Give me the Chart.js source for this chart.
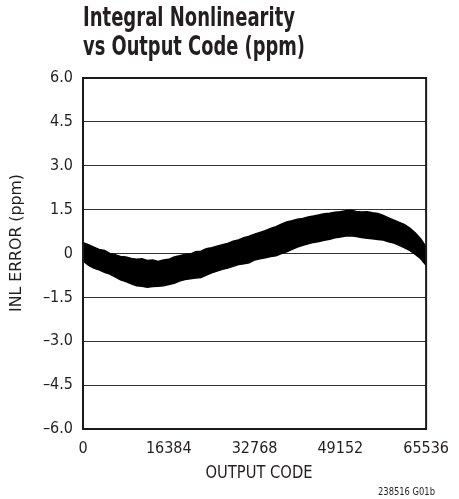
<!DOCTYPE html>
<html>
<head>
<meta charset="utf-8">
<script src="https://cdn.jsdelivr.net/npm/chart.js@4"></script>
<style>
  html, body { margin: 0; padding: 0; background: #fff; }
  #wrap { width: 459px; height: 499px; }
</style>
</head>
<body>
<div id="wrap"><canvas id="inl" width="459" height="499"></canvas></div>
<script>
// output codes, every 1024 codes
const codes = [0, 1024, 2048, 3072, 4096, 5120, 6144, 7168, 8192, 9216, 10240, 11264,
  12288, 13312, 14336, 15360, 16384, 17408, 18432, 19456, 20480, 21504, 22528, 23552,
  24576, 25600, 26624, 27648, 28672, 29696, 30720, 31744, 32768, 33792, 34816, 35840,
  36864, 37888, 38912, 39936, 40960, 41984, 43008, 44032, 45056, 46080, 47104, 48128,
  49152, 50176, 51200, 52224, 53248, 54272, 55296, 56320, 57344, 58368, 59392, 60416,
  61440, 62464, 63488, 64512, 65536];
// top edge of the noise band (ppm)
const inlUpper = [0.37, 0.3, 0.22, 0.14, 0.1, 0.0, -0.04, -0.1, -0.12, -0.17, -0.2, -0.18,
  -0.24, -0.22, -0.27, -0.22, -0.2, -0.12, -0.08, -0.03, -0.02, 0.06, 0.08, 0.16,
  0.2, 0.25, 0.3, 0.34, 0.42, 0.46, 0.54, 0.59, 0.66, 0.72, 0.78, 0.86,
  0.92, 1.0, 1.08, 1.12, 1.17, 1.2, 1.25, 1.28, 1.32, 1.36, 1.38, 1.41,
  1.43, 1.46, 1.48, 1.44, 1.42, 1.43, 1.39, 1.37, 1.3, 1.22, 1.14, 1.06,
  0.99, 0.86, 0.7, 0.5, 0.22];
// bottom edge of the noise band (ppm)
const inlLower = [-0.25, -0.4, -0.5, -0.56, -0.64, -0.7, -0.8, -0.9, -0.96, -1.04, -1.1, -1.12,
  -1.15, -1.13, -1.12, -1.1, -1.06, -1.02, -0.94, -0.89, -0.86, -0.84, -0.82, -0.74,
  -0.66, -0.6, -0.54, -0.5, -0.44, -0.38, -0.35, -0.32, -0.22, -0.18, -0.15, -0.1,
  -0.08, 0.0, 0.06, 0.14, 0.22, 0.28, 0.33, 0.38, 0.41, 0.45, 0.49, 0.54,
  0.56, 0.6, 0.61, 0.58, 0.55, 0.52, 0.5, 0.48, 0.46, 0.4, 0.36, 0.28,
  0.19, 0.1, -0.03, -0.18, -0.4];
const xTicks = [0, 16384, 32768, 49152, 65536];
const yTickLabels = { '6': '6.0', '4.5': '4.5', '3': '3.0', '1.5': '1.5', '0': '0',
  '-1.5': '\u20131.5', '-3': '\u20133.0', '-4.5': '\u20134.5', '-6': '\u20136.0' };

const narrow = '"DejaVu Sans Condensed", "Liberation Sans Narrow", Arial, sans-serif';

// draw text squeezed to a given width (the sheet uses a condensed face)
function fitText(ctx, text, x, y, width) {
  const w = ctx.measureText(text).width;
  ctx.save();
  ctx.translate(x, y);
  ctx.scale(width / w, 1);
  ctx.fillText(text, 0, 0);
  ctx.restore();
}

const textPlugin = {
  id: 'sheetText',
  afterDraw(chart) {
    const ctx = chart.ctx;
    const a = chart.chartArea;
    ctx.save();
    // frame
    ctx.strokeStyle = '#1a1a1a';
    ctx.lineWidth = 2;
    ctx.strokeRect(a.left, a.top, a.right - a.left, a.bottom - a.top);
    ctx.fillStyle = '#231f20';
    ctx.textBaseline = 'alphabetic';
    // title
    ctx.textAlign = 'left';
    ctx.font = 'bold 26px ' + narrow;
    fitText(ctx, 'Integral Nonlinearity', 83, 26, 212);
    fitText(ctx, 'vs Output Code (ppm)', 83, 55, 222);
    // axis titles
    ctx.textAlign = 'center';
    ctx.font = '17px ' + narrow;
    fitText(ctx, 'OUTPUT CODE', 259, 478, 107);
    ctx.save();
    ctx.translate(17, 243);
    ctx.rotate(-Math.PI / 2);
    ctx.textBaseline = 'middle';
    ctx.font = '16px ' + narrow;
    fitText(ctx, 'INL ERROR (ppm)', 0, 0, 138);
    ctx.restore();
    ctx.textAlign = 'right';
    ctx.font = '11px ' + narrow;
    fitText(ctx, '238516 G01b', 435, 495, 57);
    ctx.restore();
  }
};

new Chart(document.getElementById('inl'), {
  type: 'line',
  data: {
    datasets: [
      {
        label: 'upper',
        data: codes.map((c, i) => ({ x: c, y: inlUpper[i] })),
        borderColor: '#000',
        borderWidth: 1.5,
        pointRadius: 0,
        tension: 0,
        fill: false,
      },
      {
        label: 'lower',
        data: codes.map((c, i) => ({ x: c, y: inlLower[i] })),
        borderColor: '#000',
        borderWidth: 1.5,
        pointRadius: 0,
        tension: 0,
        backgroundColor: '#000',
        fill: '-1',
      },
    ],
  },
  options: {
    responsive: false,
    animation: false,
    layout: { padding: { left: 0, top: 78, right: 24, bottom: 0 } },
    plugins: {
      legend: { display: false },
      tooltip: { enabled: false },
      title: { display: false },
    },
    scales: {
      x: {
        type: 'linear',
        min: 0,
        max: 65536,
        afterBuildTicks: (scale) => { scale.ticks = xTicks.map((v) => ({ value: v })); },
        afterFit: (scale) => { scale.height = 70; },
        grid: { display: false, drawTicks: false },
        border: { display: true, color: '#1a1a1a', width: 2 },
        ticks: {
          color: '#231f20',
          font: { family: narrow, size: 16 },
          padding: 10,
          maxRotation: 0,
          autoSkip: false,
          callback: (v) => String(v),
        },
      },
      y: {
        min: -6,
        max: 6,
        afterFit: (scale) => { scale.width = 83; },
        grid: { color: '#333', lineWidth: 1, drawTicks: false },
        border: { display: true, color: '#1a1a1a', width: 2 },
        ticks: {
          stepSize: 1.5,
          color: '#231f20',
          font: { family: narrow, size: 16 },
          padding: 10,
          callback: (v) => yTickLabels[String(v)] ?? '',
        },
      },
    },
  },
  plugins: [textPlugin],
});
</script>
</body>
</html>
